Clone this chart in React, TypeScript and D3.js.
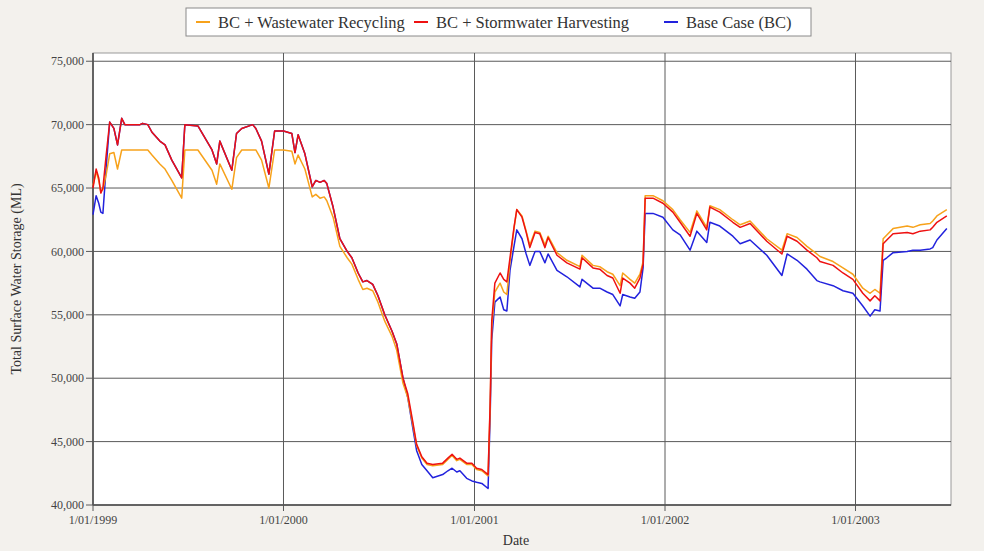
import React from "react";
import * as d3 from "d3";

const dates = [
  "1999-01-01", "1999-01-07", "1999-01-12", "1999-01-16", "1999-01-20", "1999-01-26", "1999-02-02", "1999-02-10",
  "1999-02-17", "1999-02-25", "1999-03-03", "1999-04-01", "1999-04-06", "1999-04-16", "1999-04-24", "1999-05-09",
  "1999-05-19", "1999-06-01", "1999-06-20", "1999-06-26", "1999-07-21", "1999-08-17", "1999-08-26", "1999-09-01",
  "1999-09-24", "1999-10-03", "1999-10-13", "1999-11-03", "1999-11-09", "1999-11-20", "1999-12-04", "1999-12-15",
  "2000-01-01", "2000-01-17", "2000-01-23", "2000-01-29", "2000-02-11", "2000-02-25", "2000-03-03", "2000-03-11",
  "2000-03-19", "2000-03-24", "2000-04-05", "2000-04-18", "2000-05-02", "2000-05-11", "2000-05-23", "2000-06-01",
  "2000-06-09", "2000-06-20", "2000-06-30", "2000-07-13", "2000-07-27", "2000-08-05", "2000-08-17", "2000-08-26",
  "2000-09-05", "2000-09-12", "2000-09-22", "2000-10-02", "2000-10-13", "2000-11-01", "2000-11-11", "2000-11-19",
  "2000-11-28", "2000-12-04", "2000-12-17", "2000-12-27",
  "2001-01-05", "2001-01-15", "2001-01-27", "2001-01-31", "2001-02-03", "2001-02-09", "2001-02-19", "2001-02-26",
  "2001-03-04", "2001-03-10", "2001-03-18", "2001-03-23", "2001-04-02", "2001-04-10", "2001-04-17", "2001-04-27",
  "2001-05-06", "2001-05-16", "2001-05-22", "2001-06-08", "2001-06-27", "2001-07-22", "2001-07-26", "2001-08-16",
  "2001-08-29", "2001-09-12", "2001-09-23", "2001-10-07", "2001-10-12", "2001-10-26", "2001-11-04", "2001-11-14",
  "2001-11-20", "2001-11-24", "2001-12-09", "2001-12-28",
  "2002-01-16", "2002-01-30", "2002-02-18", "2002-03-03", "2002-03-22", "2002-03-28", "2002-04-16", "2002-05-11",
  "2002-05-25", "2002-06-13", "2002-07-15", "2002-08-13", "2002-08-23", "2002-09-11", "2002-09-30", "2002-10-19",
  "2002-10-25", "2002-11-19", "2002-12-08", "2002-12-27",
  "2003-01-15", "2003-01-29", "2003-02-07", "2003-02-17", "2003-02-23", "2003-03-02", "2003-03-14", "2003-04-10",
  "2003-04-21", "2003-05-05", "2003-05-24", "2003-05-29", "2003-06-06", "2003-06-25",
];

// BC + Wastewater Recycling (ML)
const wastewater = [
  65200, 66300, 65600, 64700, 64900, 66000, 67700, 67800, 66500, 68000, 68000, 68000, 68000, 68000, 67600, 66900,
  66500, 65600, 64200, 68000, 68000, 66400, 65300, 66900, 64900, 67400, 68000, 68000, 68000, 67200, 65000, 68000,
  68000, 67900, 66900, 67600, 66500, 64300, 64500, 64200, 64300, 64000, 62700, 60400, 59500, 59000, 57800, 57000,
  57100, 56900, 56000, 54500, 53300, 52200, 49600, 48500, 46300, 44700, 43700, 43200, 43100, 43200, 43600, 43900,
  43500, 43600, 43200, 43200,
  42800, 42700, 42300, 47800, 54000, 56800, 57500, 56800, 56600, 59200, 61900, 63300, 62800, 61600, 60500, 61600,
  61500, 60500, 61200, 59900, 59300, 58800, 59700, 58900, 58800, 58400, 58200, 57300, 58300, 57800, 57500, 58200,
  59200, 64400, 64400, 64000,
  63300, 62500, 61500, 63200, 61900, 63600, 63300, 62500, 62100, 62400, 61000, 60100, 61400, 61100, 60400, 59800,
  59600, 59200, 58700, 58200,
  57100, 56700, 57000, 56700, 61000, 61300, 61800, 62000, 61900, 62100, 62200, 62400, 62800, 63300,
];

// BC + Stormwater Harvesting (ML)
const stormwater = [
  65000, 66500, 65800, 64600, 65000, 67500, 70200, 69700, 68400, 70500, 70000, 70000, 70100, 70000, 69400, 68700,
  68400, 67200, 65800, 70000, 69900, 68000, 66900, 68700, 66400, 69300, 69700, 70000, 69700, 68700, 66100, 69500,
  69500, 69300, 67800, 69200, 67700, 65100, 65600, 65450, 65600, 65350, 63500, 61000, 60000, 59500, 58300, 57600,
  57700, 57400, 56500, 55000, 53700, 52700, 50000, 48800, 46500, 44800, 43800, 43300, 43200, 43300, 43700, 44000,
  43600, 43700, 43300, 43300,
  42900, 42800, 42400, 48000, 54500, 57500, 58300, 57800, 57600, 59500, 62000, 63300, 62700, 61500, 60300, 61500,
  61400, 60300, 61100, 59700, 59100, 58600, 59500, 58700, 58600, 58100, 57900, 56700, 57900, 57500, 57100, 57900,
  59000, 64200, 64200, 63800,
  63100, 62300, 61200, 63000, 61700, 63500, 63100, 62300, 61900, 62200, 60800, 59800, 61200, 60800, 60100, 59500,
  59200, 58900, 58300, 57800,
  56700, 56100, 56500, 56100, 60600, 60900, 61400, 61500, 61400, 61600, 61700, 61900, 62300, 62800,
];

// Base Case (BC) (ML)
const baseCase = [
  62900, 64400, 63800, 63100, 63000, 66500, 70200, 69700, 68400, 70500, 70000, 70000, 70100, 70000, 69400, 68700,
  68400, 67200, 65800, 70000, 69900, 68000, 66900, 68700, 66400, 69300, 69700, 70000, 69700, 68700, 66100, 69500,
  69500, 69300, 67800, 69200, 67700, 65100, 65600, 65450, 65600, 65350, 63500, 61000, 60000, 59500, 58300, 57600,
  57700, 57400, 56500, 55000, 53700, 52700, 50000, 48500, 46000, 44300, 43200, 42700, 42150, 42400, 42700, 42900,
  42600, 42700, 42100, 41900,
  41800, 41700, 41300, 47000, 53000, 56000, 56400, 55400, 55300, 58500, 60500, 61700, 61000, 59800, 58900, 60000,
  60000, 59100, 59800, 58500, 58000, 57200, 57800, 57100, 57100, 56800, 56600, 55700, 56600, 56400, 56300, 56800,
  58700, 63000, 63000, 62700,
  61700, 61300, 60100, 61600, 60700, 62300, 62000, 61200, 60600, 60900, 59700, 58100, 59800, 59300, 58600, 57700,
  57600, 57300, 56900, 56700,
  55700, 54900, 55400, 55300, 59300, 59500, 59900, 60000, 60100, 60100, 60200, 60300, 60900, 61800,
];

const yTicks = [40000, 45000, 50000, 55000, 60000, 65000, 70000, 75000];
const xTicks = ["1999-01-01", "2000-01-01", "2001-01-01", "2002-01-01", "2003-01-01"];
const seriesNames = ["BC + Wastewater Recycling", "BC + Stormwater Harvesting", "Base Case (BC)"];
const seriesColors = ["#f7a21b", "#ee1111", "#2222dd"];

const W = 984;
const H = 551;
const left = 93;
const right = 951;
const top = 53;
const bottom = 505;
const font = "'Liberation Serif', 'Times New Roman', serif";

const parse = d3.timeParse("%Y-%m-%d");
const fmtTick = d3.timeFormat("%-d/%m/%Y");

export default function App() {
  const x = d3.scaleTime()
    .domain([parse("1999-01-01")!, parse("2003-07-03")!])
    .range([left, right]);
  const y = d3.scaleLinear().domain([40000, 75650]).range([bottom, top]);

  const days = dates.map((d) => parse(d)!);
  const line = d3.line<number>()
    .x((_, i) => x(days[i]))
    .y((v) => y(v));

  // draw order: base case underneath, then wastewater, then stormwater on top
  const series = [
    { name: seriesNames[2], values: baseCase, color: seriesColors[2] },
    { name: seriesNames[0], values: wastewater, color: seriesColors[0] },
    { name: seriesNames[1], values: stormwater, color: seriesColors[1] },
  ];

  const legendItems = [
    { name: seriesNames[0], color: seriesColors[0], lx: 196, tx: 218 },
    { name: seriesNames[1], color: seriesColors[1], lx: 414, tx: 436 },
    { name: seriesNames[2], color: seriesColors[2], lx: 664, tx: 686 },
  ];

  return (
    <div style={{ position: "absolute", left: 0, top: 0 }}>
      <svg width={W} height={H} style={{ display: "block", fontFamily: font }}>
        <rect x={0} y={0} width={W} height={H} fill="#f3f1ed" />
        <rect x={left} y={top} width={right - left} height={bottom - top} fill="#ffffff" stroke="#9a9a9a" />

        {/* grid */}
        {yTicks.map((t) => (
          <g key={"y" + t}>
            <line x1={left} x2={right} y1={y(t)} y2={y(t)} stroke="#5a5a5a" strokeWidth={1} />
            <line x1={left - 7} x2={left} y1={y(t)} y2={y(t)} stroke="#5a5a5a" />
            <text x={left - 9} y={y(t)} dy="0.35em" textAnchor="end" fontSize={12} fill="#444">
              {d3.format(",")(t)}
            </text>
          </g>
        ))}
        {xTicks.map((t) => {
          const xx = x(parse(t)!);
          return (
            <g key={"x" + t}>
              <line x1={xx} x2={xx} y1={top} y2={bottom} stroke="#5a5a5a" strokeWidth={1} />
              <line x1={xx} x2={xx} y1={bottom} y2={bottom + 6} stroke="#5a5a5a" />
              <text x={xx} y={bottom + 19} textAnchor="middle" fontSize={12} fill="#444">
                {fmtTick(parse(t)!)}
              </text>
            </g>
          );
        })}
        <line x1={left} x2={left} y1={top} y2={bottom} stroke="#555" strokeWidth={1.5} />
        <line x1={left} x2={right} y1={bottom} y2={bottom} stroke="#555" strokeWidth={1.5} />

        {series.map((s) => (
          <path key={s.name} d={line(s.values) || ""} fill="none" stroke={s.color} strokeWidth={1.5} strokeLinejoin="round" />
        ))}

        <text x={(left + right) / 2 - 6} y={545} textAnchor="middle" fontSize={14} fill="#333">Date</text>
        <text transform={`translate(21,${(top + bottom) / 2}) rotate(-90)`} textAnchor="middle" fontSize={14} fill="#333">
          Total Surface Water Storage (ML)
        </text>

        {/* legend */}
        <rect x={186} y={8} width={625} height={28} fill="#ffffff" stroke="#8a8a8a" />
        {legendItems.map((it) => (
          <g key={it.name}>
            <line x1={it.lx} x2={it.lx + 14} y1={22} y2={22} stroke={it.color} strokeWidth={2} />
            <text x={it.tx} y={27.5} fontSize={16.5} fill="#333">{it.name}</text>
          </g>
        ))}
      </svg>
    </div>
  );
}
